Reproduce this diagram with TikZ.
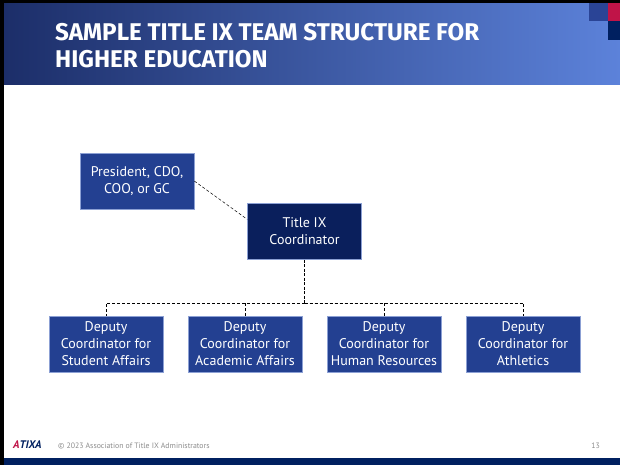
\documentclass[tikz,border=0pt]{standalone}
\usepackage{fontspec}
\setmainfont{PT Sans}
\setsansfont{PT Sans}
\newfontfamily\headfont{Fira Sans}
\usetikzlibrary{calc,positioning}
\definecolor{boxblue}{RGB}{35,64,145}
\definecolor{leadnavy}{RGB}{10,31,92}
\definecolor{edgeblue}{RGB}{140,160,212}
\definecolor{headdark}{RGB}{28,46,105}
\definecolor{headmid}{RGB}{40,72,155}
\definecolor{headlight}{RGB}{92,130,218}
\definecolor{accblue}{RGB}{42,68,150}
\definecolor{accred}{RGB}{192,20,72}
\definecolor{accnavy}{RGB}{0,32,96}
\definecolor{footgray}{RGB}{140,140,140}
\tikzset{
     org node/.style={font=\fontsize{14}{17}\selectfont, text=white, align=center,
        minimum width=114pt, minimum height=56pt, inner sep=0pt, draw=edgeblue, line width=0.5pt},
      deputy node/.style = {org node, fill=boxblue},
      lead node/.style   = {org node, fill=leadnavy},
      title node/.style  = {font=\headfont\fontsize{24.2}{27}\selectfont\bfseries, text=white, anchor=base west, inner sep=0pt},
      foot node/.style   = {font=\fontsize{7.8}{9}\selectfont, text=footgray, inner sep=0pt},
      linkedge/.style    = {black, line width=0.5pt, dash pattern=on 3pt off 2pt},
      trunkedge/.style   = {black, line width=1.5pt, dash pattern=on 3pt off 1.5pt},
    }

\begin{document}
\begin{tikzpicture}[x=1pt,y=-1pt,node distance=139pt,on grid]
        \useasboundingbox (0,0) rectangle (620,465);
        \fill[white] (0,0) rectangle (620,465);
        \shade[left color=headdark, middle color=headmid, right color=headlight] (4,3) rectangle (620,85);
        \fill[black] (0,0) rectangle (620,3);
        \fill[black] (0,0) rectangle (4,465);
        \fill[accblue] (589,3) rectangle (608,21);
        \fill[accred] (608,3) rectangle (620,21);
        \fill[accnavy] (608,21) rectangle (620,40);
        \fill[accnavy] (4,458) rectangle (620,465);

        \node [title node] (title1) at (55,41) {SAMPLE TITLE IX TEAM STRUCTURE FOR};
        \node [title node] (title2) at ($(title1.base west)+(0,27)$) {HIGHER EDUCATION};

        \node [lead node] (lead) at (304.5,231.5) {Title IX\\Coordinator};
        \node [deputy node] (pres) [above left=50.5pt and 167.5pt of lead] {President, CDO,\\COO, or GC};
        \node [deputy node] (d1) at (106,344) {Deputy\\Coordinator for\\Student Affairs};
        \node [deputy node] (d2) [right of=d1] {Deputy\\Coordinator for\\Academic Affairs};
        \node [deputy node] (d3) [right of=d2] {Deputy\\Coordinator for\\Human Resources};
        \node [deputy node] (d4) [right of=d3] {Deputy\\Coordinator for\\Athletics};

        \coordinate (bus) at ($(lead.south)+(0,43)$);
        \draw[linkedge] (pres.east) -- (lead.168);
        \draw[trunkedge] (lead.south) -- (bus);
        \foreach \d in {d1,d2,d3,d4}
            \draw[linkedge] (bus) -| (\d.north);

        \node [foot node, anchor=base west, font=\fontsize{11}{12}\selectfont\bfseries\itshape] (logo) at (13,448)
            {\textcolor{accred}{A}\textcolor{accnavy}{TIXA}};
        \node [foot node, anchor=base west] (copy) at (58,448) {© 2023 Association of Title IX Administrators};
        \node [foot node, anchor=base east] (page) at (600,448) {13};
    \end{tikzpicture}
\end{document}
